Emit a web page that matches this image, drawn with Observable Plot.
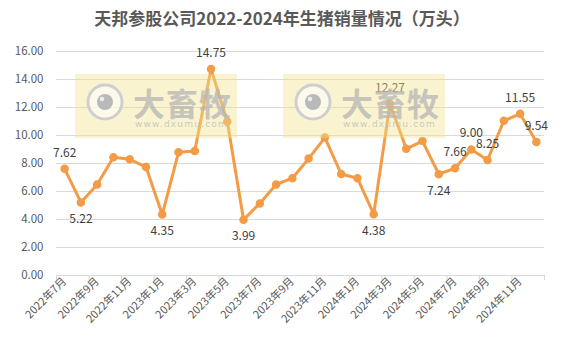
<!DOCTYPE html>
<html>
<head>
<meta charset="utf-8">
<script src="https://cdn.jsdelivr.net/npm/d3@7"></script>
<script src="https://cdn.jsdelivr.net/npm/@observablehq/plot@0.6"></script>
<style>
  html, body { margin: 0; padding: 0; background: #fff; }
  #wrap { position: relative; width: 564px; height: 345px; overflow: hidden; font-family: "Noto Sans CJK SC", "Noto Sans", sans-serif; }
  #title { height: 34px; line-height: 36px; text-align: center; font-size: 17px; font-weight: bold; color: #595959; }
  #wm { position: absolute; left: 0; top: 0; pointer-events: none; }
</style>
</head>
<body>
<div id="wrap">
  <div id="title">天邦参股公司2022-2024年生猪销量情况（万头）</div>
  <div id="chart"></div>
  <svg id="wm" width="564" height="345"></svg>
</div>
<script>
const months = ["2022年7月","2022年8月","2022年9月","2022年10月","2022年11月","2022年12月",
  "2023年1月","2023年2月","2023年3月","2023年4月","2023年5月","2023年6月",
  "2023年7月","2023年8月","2023年9月","2023年10月","2023年11月","2023年12月",
  "2024年1月","2024年2月","2024年3月","2024年4月","2024年5月","2024年6月",
  "2024年7月","2024年8月","2024年9月","2024年10月","2024年11月","2024年12月"];
const sales = [7.62, 5.22, 6.50, 8.45, 8.30, 7.75,
  4.35, 8.80, 8.90, 14.75, 11.00, 3.99,
  5.15, 6.50, 6.95, 8.35, 9.85, 7.25,
  6.95, 4.38, 12.27, 9.05, 9.60, 7.24,
  7.66, 9.00, 8.25, 11.05, 11.55, 9.54];
// which points carry a data label, and whether it sits above (1) or below (-1)
const labelAbove = [0, 9, 20, 24, 25, 26, 28, 29];
const labelBelow = [1, 6, 11, 19, 23];
const yTicks = [0, 2, 4, 6, 8, 10, 12, 14, 16];

const data = months.map((m, i) => ({i, month: m, value: sales[i]}));
const evenIdx = data.filter(d => d.i % 2 === 0).map(d => d.i);
const lineColor = "#f39b45";

const chart = Plot.plot({
  width: 564,
  height: 311,
  marginLeft: 56,
  marginRight: 20,
  marginTop: 17,
  marginBottom: 70,
  style: {fontFamily: "'Noto Sans CJK SC', 'Noto Sans', sans-serif", fontSize: "11px", color: "#595959", background: "transparent"},
  x: {type: "linear", domain: [-0.5, months.length - 0.5]},
  y: {domain: [0, 16]},
  marks: [
    Plot.gridY(yTicks, {stroke: "#d9d9d9", strokeOpacity: 1, strokeWidth: 1}),
    Plot.axisY(yTicks, {tickSize: 0, tickPadding: 13, tickFormat: d => d.toFixed(2), fill: "#595959", fontSize: 11.5, label: null}),
    Plot.ruleY([0], {stroke: "#d9d9d9"}),
    Plot.ruleX(evenIdx.concat([months.length]), {x: d => d - 0.5, y1: 0, y2: -0.36, stroke: "#d9d9d9"}),
    Plot.axisX(evenIdx, {tickSize: 0, tickPadding: 4, tickRotate: -45, tickFormat: i => months[i], fill: "#595959", fontSize: 11, label: null, textAnchor: "end"}),
    Plot.lineY(data, {x: "i", y: "value", stroke: lineColor, strokeWidth: 3, strokeLinejoin: "round"}),
    Plot.dot(data, {x: "i", y: "value", r: 3.5, fill: lineColor, stroke: lineColor}),
    Plot.text(data.filter(d => labelAbove.includes(d.i)), {x: "i", y: "value", text: d => d.value.toFixed(2), dy: -16, fill: "#404040", fontSize: 12}),
    Plot.text(data.filter(d => labelBelow.includes(d.i)), {x: "i", y: "value", text: d => d.value.toFixed(2), dy: 17, fill: "#404040", fontSize: 12})
  ]
});
document.getElementById("chart").appendChild(chart);

// watermark decoration (site logo) drawn on top, semi-transparent
const wm = d3.select("#wm");
[[75, 74], [283, 74]].forEach(([x0, y0]) => {
  const g = wm.append("g").attr("transform", `translate(${x0},${y0})`);
  g.append("rect").attr("width", 162).attr("height", 64).attr("fill", "rgb(240,226,140)").attr("opacity", 0.42);
  g.append("circle").attr("cx", 30).attr("cy", 28).attr("r", 17).attr("fill", "#fff").attr("fill-opacity", 0.6).attr("stroke", "#cfcfcf").attr("stroke-width", 3);
  g.append("circle").attr("cx", 30).attr("cy", 28).attr("r", 8).attr("fill", "#b9b9b9");
  g.append("circle").attr("cx", 27).attr("cy", 25).attr("r", 2.2).attr("fill", "#eee");
  g.append("text").attr("x", 58).attr("y", 42).attr("font-size", 32).attr("font-weight", "bold")
    .attr("font-family", "'Noto Sans CJK SC', sans-serif").attr("fill", "#b5b5b5").attr("fill-opacity", 0.75).attr("letter-spacing", 1).text("大畜牧");
  g.append("text").attr("x", 60).attr("y", 53).attr("font-size", 9).attr("font-family", "'DejaVu Sans', sans-serif")
    .attr("fill", "#bdbdbd").attr("fill-opacity", 0.8).attr("letter-spacing", 1.2).text("www.dxumu.com");
});
</script>
</body>
</html>
